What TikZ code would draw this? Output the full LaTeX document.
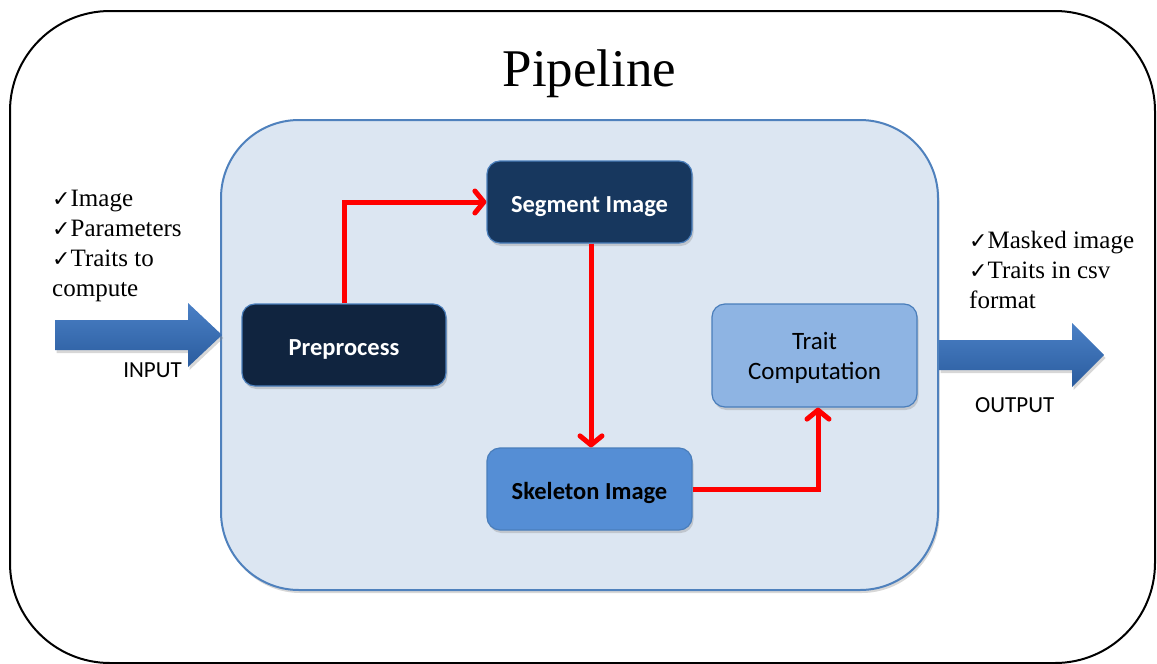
\documentclass[tikz,border=0pt]{standalone}
\usepackage{fontspec}
\setmainfont{Liberation Serif}
\newfontfamily\listfont{Liberation Serif}
\newfontfamily\calfont{Carlito}
\newfontfamily\chkfont{DejaVu Sans}
\usetikzlibrary{arrows.meta,shadows}

\definecolor{coreFill}{HTML}{DCE6F2}
\definecolor{coreLine}{HTML}{4F81BD}
\definecolor{navyDark}{HTML}{10243F}
\definecolor{navy}{HTML}{17375E}
\definecolor{midBlue}{HTML}{558ED5}
\definecolor{lightBlue}{HTML}{8EB4E3}
\definecolor{boxLine}{HTML}{4A7EBB}
\definecolor{arrTop}{HTML}{4A80C6}
\definecolor{arrBot}{HTML}{2A5C9E}

\newcommand\chk{{\chkfont\fontsize{22}{22}\selectfont ✓}}

\begin{document}
\begin{tikzpicture}[x=1pt,y=-1pt,
  softshadow/.style={drop shadow={shadow xshift=1.5pt,shadow yshift=-3pt,fill=black!45,opacity=0.35}},
  stage/.style={draw=boxLine,line width=1.2pt,rounded corners=13pt,
    minimum width=205pt,minimum height=82pt,inner sep=0pt,softshadow,
    text height=20pt,text depth=0pt,
    font=\calfont\bfseries\fontsize{24.5}{30}\selectfont,align=center},
  flow/.style={draw=red,line width=5pt,
    -{Straight Barb[length=9pt,width=22pt,round]}},
  blockarrow/.style={top color=arrTop,bottom color=arrBot,draw=none,softshadow},
  list/.style={anchor=north west,inner sep=0pt,align=left,
    font=\listfont\fontsize{25}{30}\selectfont},
  tag/.style={inner sep=0pt,font=\calfont\fontsize{23}{23}\selectfont}]

\useasboundingbox (0,0) rectangle (1157,664);

% outer frame and title
\draw[line width=2pt,rounded corners=100pt] (10,11) rectangle (1155,663);
\node[anchor=base,inner sep=0pt,font=\listfont\fontsize{53}{53}\selectfont] (title) at (589.5,86) {Pipeline};

% central panel
\node[draw=coreLine,fill=coreFill,line width=2pt,rounded corners=78pt,
  minimum width=717pt,minimum height=470pt,inner sep=0pt,softshadow] (core) at (579.5,355) {};

% input / output block arrows
\path[blockarrow] (55,320) -- (188,320) -- (188,303) -- (222,335) -- (188,367)
  -- (188,350) -- (55,350) -- cycle;
\path[blockarrow] (939,340) -- (1072,340) -- (1072,323) -- (1104,355) -- (1072,387)
  -- (1072,370) -- (939,370) -- cycle;

% processing stages
\node[stage,fill=navyDark,text=white,minimum width=204pt] (pre) at (344,345) {Preprocess};
\node[stage,fill=navy,text=white] (seg) at (589.5,202) {Segment Image};
\node[stage,fill=midBlue,text=black] (skel) at (589.5,489) {Skeleton Image};
\node[stage,fill=lightBlue,text=black,minimum height=103pt,
  text height=47pt,text depth=0pt,
  font=\calfont\fontsize{25}{30}\selectfont] (trait) at (814.5,355.5) {Trait\\Computation};

% flow between stages
\draw[flow] (pre.north) |- (seg.west);
\draw[flow] ([xshift=1.5pt]seg.south) -- ([xshift=1.5pt]skel.north);
\draw[flow] (skel.east) -| ([xshift=3.5pt]trait.south);

% inputs and outputs
\node[list] (inlist) at (52,190) {\chk Image\\\chk Parameters\\\chk Traits to\\compute};
\node[list] (outlist) at (969,231) {\chk Masked image\\\chk Traits in csv\\format};
\node[tag,anchor=base east] (inlabel) at (182,377) {INPUT};
\node[tag,anchor=base west] (outlabel) at (975,412) {OUTPUT};

\end{tikzpicture}
\end{document}
